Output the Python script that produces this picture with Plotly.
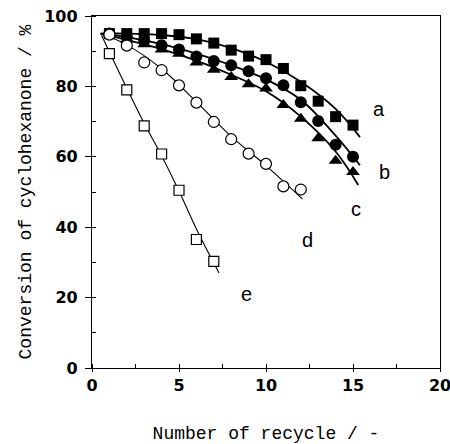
import plotly.graph_objects as go

# ---- data ----
cycles = list(range(1, 16))
conv_a = [95.0, 95.0, 95.0, 95.0, 94.7, 93.5, 92.3, 90.3, 88.6, 87.6, 85.1, 80.2, 75.8, 71.4, 69.0]
conv_b = [95.0, 94.0, 93.0, 91.7, 90.5, 88.5, 87.2, 86.0, 84.3, 82.3, 80.3, 75.5, 70.2, 63.4, 60.0]
conv_c = [95.0, 93.3, 92.0, 90.5, 89.3, 86.8, 84.7, 82.7, 80.6, 79.4, 74.7, 70.8, 65.3, 58.9, 55.7]
cycles_d = list(range(1, 13))
conv_d = [94.7, 91.6, 86.8, 84.6, 80.3, 75.4, 69.9, 65.0, 60.9, 58.0, 51.6, 50.7]
cycles_e = list(range(1, 8))
conv_e = [89.3, 79.0, 68.8, 60.8, 50.5, 36.5, 30.3]

# fitted curves
fit_a_x = [0.5, 2, 4, 6, 8, 10, 12, 14, 15.4]
fit_a_y = [95.0, 95.0, 94.6, 93.4, 90.9, 87.0, 81.3, 73.6, 65.6]
fit_b_x = [0.5, 2, 4, 6, 8, 10, 12, 14, 15.4]
fit_b_y = [95.0, 94.0, 92.0, 89.3, 86.0, 82.0, 76.2, 66.0, 57.6]
fit_c_x = [0.5, 2, 4, 6, 8, 10, 12, 14, 15.3]
fit_c_y = [95.0, 93.2, 90.6, 87.3, 83.3, 78.6, 71.4, 61.5, 52.0]
fit_d_x = [0.5, 2, 4, 6, 8, 10, 12.1]
fit_d_y = [95.0, 91.8, 85.0, 75.6, 65.8, 57.5, 48.0]
fit_e_x = [0.55, 1, 2, 3, 4, 5, 6, 7.3]
fit_e_y = [94.5, 89.8, 79.5, 69.5, 60.3, 50.3, 39.5, 27.0]

labels = ["a", "b", "c", "d", "e"]
label_x = [16.5, 16.8, 15.2, 12.4, 8.9]
label_y = [73.7, 55.7, 45.3, 36.3, 21.1]

fig = go.Figure()

fits = [(fit_a_x, fit_a_y, 1.8), (fit_b_x, fit_b_y, 1.8), (fit_c_x, fit_c_y, 1.8),
        (fit_d_x, fit_d_y, 1.1), (fit_e_x, fit_e_y, 1.1)]
for fx, fy, w in fits:
    fig.add_trace(go.Scatter(x=fx, y=fy, mode="lines",
                             line=dict(color="black", width=w, shape="spline", smoothing=1.0),
                             hoverinfo="skip", showlegend=False))

fig.add_trace(go.Scatter(x=cycles, y=conv_a, mode="markers", name="a",
                         marker=dict(symbol="square", size=11, color="black"), showlegend=False))
fig.add_trace(go.Scatter(x=cycles, y=conv_b, mode="markers", name="b",
                         marker=dict(symbol="circle", size=12, color="black"), showlegend=False))
fig.add_trace(go.Scatter(x=cycles, y=conv_c, mode="markers", name="c",
                         marker=dict(symbol="triangle-up", size=12, color="black"), showlegend=False))
fig.add_trace(go.Scatter(x=cycles_d, y=conv_d, mode="markers", name="d",
                         marker=dict(symbol="circle", size=11, color="white",
                                     line=dict(color="black", width=1.2)), showlegend=False))
fig.add_trace(go.Scatter(x=cycles_e, y=conv_e, mode="markers", name="e",
                         marker=dict(symbol="square", size=10, color="white",
                                     line=dict(color="black", width=1.2)), showlegend=False))

for t, lx, ly in zip(labels, label_x, label_y):
    fig.add_annotation(x=lx, y=ly, text=t, showarrow=False,
                       font=dict(family="Liberation Sans, Arial", size=20, color="black"))

axis_common = dict(showline=True, linecolor="black", linewidth=1.3, mirror=True,
                   showgrid=False, zeroline=False, ticks="outside", automargin=False,
                   ticklabeloverflow="allow",
                   tickcolor="black", tickwidth=1.2,
                   tickfont=dict(family="DejaVu Sans", size=16, color="black", weight="bold"))

fig.update_xaxes(range=[0, 20], tickvals=[0, 5, 10, 15, 20], ticklen=3,
                 minor=dict(dtick=2.5, ticks="inside", ticklen=4, tickcolor="black", tickwidth=1),
                 title=dict(text="Number of recycle / -", standoff=34,
                            font=dict(family="Liberation Mono", size=18, color="black")),
                 **axis_common)
fig.update_yaxes(range=[0, 100], tickvals=[0, 20, 40, 60, 80, 100], ticklen=6,
                 ticklabelstandoff=4,
                 minor=dict(dtick=10, ticks="inside", ticklen=4, tickcolor="black", tickwidth=1),
                 title=dict(text="Conversion of cyclohexanone / %", standoff=7,
                            font=dict(family="Liberation Mono", size=18, color="black")),
                 **axis_common)

fig.update_layout(width=450, height=444, margin=dict(l=92, r=10, t=16, b=76),
                  plot_bgcolor="white", paper_bgcolor="white")

fig.write_html("out.html")
